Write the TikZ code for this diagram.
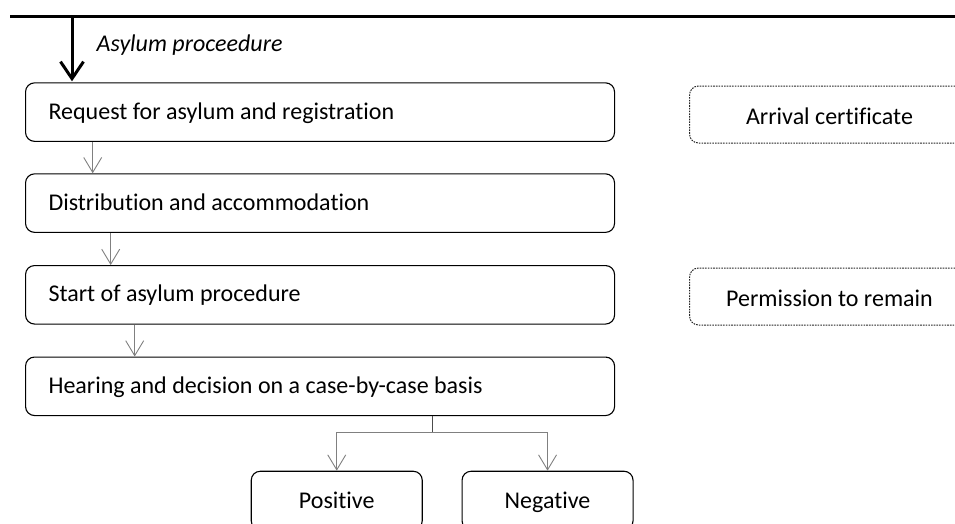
\documentclass[tikz,border=0pt]{standalone}
\usepackage{fontspec}
\setmainfont{Carlito}[RawFeature=-liga]
\usetikzlibrary{arrows.meta,calc}
\begin{document}
\begin{tikzpicture}[x=1pt,y=-1pt,
  txt/.style={font=\fontsize{24}{28}\selectfont},
  stage/.style={txt, text height=18pt, text depth=4pt, draw=black, line width=1.1pt, rounded corners=9pt,
    minimum width=589pt, minimum height=58.5pt, text width=543pt,
    align=flush left, inner xsep=23pt, inner ysep=0pt, anchor=north west},
  doc/.style={txt, text height=22pt, text depth=3pt, draw=black!85, line width=1pt, dash pattern=on 1.6pt off 1.1pt,
    rounded corners=9pt, minimum width=280pt, minimum height=57pt,
    align=center, inner sep=0pt, anchor=north west},
  result/.style={txt, text height=20pt, text depth=4pt, draw=black, line width=1.1pt, rounded corners=9pt,
    minimum width=171pt, minimum height=58.5pt, inner sep=0pt, anchor=north west},
  conn/.style={draw=black!50, line width=0.9pt, -{Straight Barb[length=15pt,width=18pt]}},
  plain/.style={draw=black!70, line width=0.9pt},
  bar/.style={draw=black, line width=3pt},
  bigarrow/.style={draw=black, line width=3pt, -{Straight Barb[length=17pt,width=23pt]}}
]
\useasboundingbox (0,0) rectangle (955,523);
\clip (0,0) rectangle (955,523);

% top bar and entry arrow
\coordinate (barL) at (10,16);
\coordinate (barR) at (960,16);
\draw[bar] (barL) -- (barR);
\node[font=\fontsize{24}{28}\selectfont\itshape, anchor=base west, inner sep=0pt] (lab) at (96.5,51.7) {Asylum proceedure};

% stages
\node[stage] (req)  at (25,82.3)  {Request for asylum and registration};
\node[stage] (dist) at (25,173.3) {Distribution and accommodation};
\node[stage] (start) at (25,265)  {Start of asylum procedure};
\node[stage] (hear) at (25,356.5) {Hearing and decision on a case-by-case basis};

% documents
\node[doc] (arr)  at (689,85.5) {Arrival certificate};
\node[doc] (perm) at (689,267.5) {Permission to remain};

% outcomes
\node[result] (pos) at (250.7,470.7) {Positive};
\node[result] (neg) at (461.5,470.7) {Negative};

% connectors
\coordinate (bigtop) at (72,16);
\draw[bigarrow] (bigtop) -- ($(bigtop |- req.north)+(0,-1)$);

\coordinate (a1) at (92.7,0);
\coordinate (a2) at (110.7,0);
\coordinate (a3) at (134.7,0);
\draw[conn] (a1 |- req.south) -- (a1 |- dist.north);
\draw[conn] (a2 |- dist.south) -- (a2 |- start.north);
\draw[conn] (a3 |- start.south) -- (a3 |- hear.north);

\coordinate (split) at (432.7,432.7);
\draw[plain] (split |- hear.south) -- (split);
\draw[conn] (split) -| (pos.north);
\draw[conn] (split) -| (neg.north);
\end{tikzpicture}
\end{document}
